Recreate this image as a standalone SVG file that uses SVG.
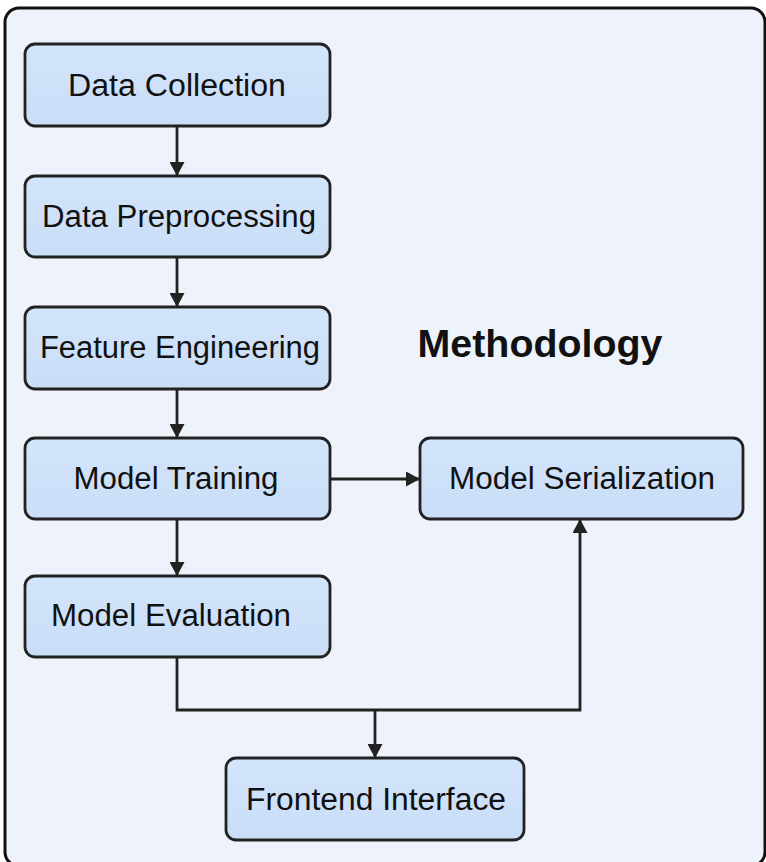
<svg xmlns="http://www.w3.org/2000/svg" width="766" height="862" viewBox="0 0 766 862">
<defs>
<linearGradient id="g" x1="0" y1="0" x2="0" y2="1">
<stop offset="0" stop-color="#d3e5fb"/>
<stop offset="1" stop-color="#c9ddf7"/>
</linearGradient>
<marker id="ah" markerWidth="14" markerHeight="15" viewBox="0 0 14 15" refX="14" refY="7.5" orient="auto" markerUnits="userSpaceOnUse">
<path d="M0,0 L14,7.5 L0,15 Z" fill="#222"/>
</marker>
<style>
.box{fill:url(#g);stroke:#222;stroke-width:2.8}
.lbl{font-family:"Liberation Sans",Arial,sans-serif;font-size:31px;fill:#111;text-anchor:middle}
.title{font-family:"Liberation Sans",Arial,sans-serif;font-size:38px;font-weight:bold;fill:#111;text-anchor:middle}
.con{fill:none;stroke:#222;stroke-width:2.8}
</style>
</defs>
<rect x="0" y="0" width="766" height="862" fill="#ffffff"/>
<rect x="5" y="8" width="760" height="858" rx="14" fill="#eef3fb" stroke="#111" stroke-width="3"/>
<text class="title" x="540" y="357" textLength="245" lengthAdjust="spacingAndGlyphs">Methodology</text>
<g id="connectors">
<path class="con" d="M177,126 V176" marker-end="url(#ah)"/>
<path class="con" d="M177,257 V307" marker-end="url(#ah)"/>
<path class="con" d="M177,389 V438" marker-end="url(#ah)"/>
<path class="con" d="M177,519 V576" marker-end="url(#ah)"/>
<path class="con" d="M330,479 H420" marker-end="url(#ah)"/>
<path class="con" d="M177,657 V710 H580 V519" marker-end="url(#ah)"/>
<path class="con" d="M375,710 V758" marker-end="url(#ah)"/>
</g>
<g id="data-collection">
<rect class="box" x="25" y="44" width="305" height="82" rx="10"/>
<text class="lbl" x="177" y="96" textLength="218" lengthAdjust="spacingAndGlyphs">Data Collection</text>
</g>
<g id="data-preprocessing">
<rect class="box" x="25" y="176" width="305" height="81" rx="10"/>
<text class="lbl" x="179" y="227" textLength="274" lengthAdjust="spacingAndGlyphs">Data Preprocessing</text>
</g>
<g id="feature-engineering">
<rect class="box" x="25" y="307" width="305" height="82" rx="10"/>
<text class="lbl" x="180" y="358" textLength="280" lengthAdjust="spacingAndGlyphs">Feature Engineering</text>
</g>
<g id="model-training">
<rect class="box" x="25" y="438" width="305" height="81" rx="10"/>
<text class="lbl" x="176" y="489" textLength="205" lengthAdjust="spacingAndGlyphs">Model Training</text>
</g>
<g id="model-evaluation">
<rect class="box" x="25" y="576" width="305" height="81" rx="10"/>
<text class="lbl" x="171" y="626" textLength="240" lengthAdjust="spacingAndGlyphs">Model Evaluation</text>
</g>
<g id="model-serialization">
<rect class="box" x="420" y="438" width="323" height="81" rx="10"/>
<text class="lbl" x="582" y="489" textLength="266" lengthAdjust="spacingAndGlyphs">Model Serialization</text>
</g>
<g id="frontend-interface">
<rect class="box" x="226" y="758" width="298" height="82" rx="10"/>
<text class="lbl" x="376" y="810" textLength="260" lengthAdjust="spacingAndGlyphs">Frontend Interface</text>
</g>
</svg>
